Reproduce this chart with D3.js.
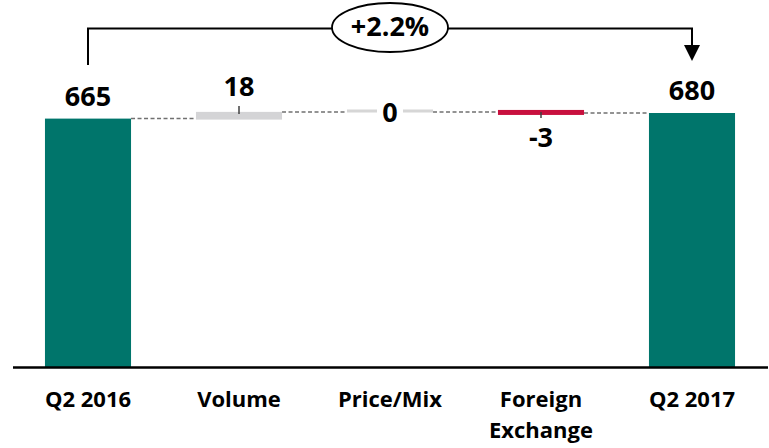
<!DOCTYPE html>
<html>
<head>
<meta charset="utf-8">
<script src="https://cdn.jsdelivr.net/npm/d3@7"></script>
<style>
  body { margin: 0; background: #fff; }
  svg { display: block; font-family: "Open Sans", Lato, sans-serif; }
</style>
</head>
<body>
<div id="chartContainer"></div>
<script>
// Chart data
const categories = ["Q2 2016", "Volume", "Price/Mix", "Foreign Exchange", "Q2 2017"];
const values = [665, 18, 0, -3, 680];
const kinds = ["total", "delta", "delta", "delta", "total"];
const changeLabel = "+2.2%";

function createChart() {
    const width = 769;
    const height = 448;
    const baseY = 367;

    const teal = "#00756b";
    const red = "#c8103e";
    const grayUp = "#d4d4d6";
    const grayZero = "#d6d6d6";

    // build waterfall steps
    let running = 0;
    const steps = categories.map((c, i) => {
        let start, end;
        if (kinds[i] === "total") { start = 0; end = values[i]; running = values[i]; }
        else { start = running; end = running + values[i]; running = end; }
        return { cat: c, value: values[i], kind: kinds[i], start, end };
    });

    const x = d3.scaleBand()
        .domain(categories)
        .range([12.5, 767.5])
        .paddingInner(0.43)
        .paddingOuter(0.215);

    const y = d3.scaleLinear()
        .domain([0, 680])
        .range([baseY, 113]);

    const svg = d3.create("svg")
        .attr("viewBox", [0, 0, width, height])
        .attr("width", width)
        .attr("height", height);

    // dashed connectors
    const links = steps.slice(0, -1).map((d, i) => ({ from: d, to: steps[i + 1], level: d.end }));
    svg.append("g")
        .selectAll("line")
        .data(links)
        .join("line")
        .attr("x1", d => x(d.from.cat) + x.bandwidth())
        .attr("x2", d => x(d.to.cat))
        .attr("y1", d => y(d.level))
        .attr("y2", d => y(d.level))
        .attr("stroke", "#707070")
        .attr("stroke-width", 1.5)
        .attr("stroke-dasharray", "4,2.5");

    // bars
    const minH = 5;
    const barY = d => {
        const top = y(Math.max(d.start, d.end)), bot = y(Math.min(d.start, d.end));
        if (d.kind === "delta" && d.value !== 0 && bot - top < minH) {
            const mid = (top + bot) / 2;
            return [mid - minH / 2, minH];
        }
        return [top, bot - top];
    };

    svg.append("g")
        .selectAll("rect")
        .data(steps.filter(d => !(d.kind === "delta" && d.value === 0)))
        .join("rect")
        .attr("x", d => x(d.cat))
        .attr("width", x.bandwidth())
        .attr("y", d => d.kind === "total" ? y(d.end) : barY(d)[0])
        .attr("height", d => d.kind === "total" ? y(0) - y(d.end) : barY(d)[1] + (d.value > 0 ? 1 : 0))
        .attr("fill", d => d.kind === "total" ? teal : (d.value > 0 ? grayUp : red));

    // zero change drawn as a thin line
    const zeros = steps.filter(d => d.kind === "delta" && d.value === 0);
    svg.append("g")
        .selectAll("line")
        .data(zeros)
        .join("line")
        .attr("x1", d => x(d.cat))
        .attr("x2", d => x(d.cat) + x.bandwidth())
        .attr("y1", d => y(d.end) - 1)
        .attr("y2", d => y(d.end) - 1)
        .attr("stroke", grayZero)
        .attr("stroke-width", 3);

    // small tick marks on delta bars
    const deltas = steps.filter(d => d.kind === "delta" && d.value !== 0);
    svg.append("g")
        .selectAll("line")
        .data(deltas)
        .join("line")
        .attr("x1", d => x(d.cat) + x.bandwidth() / 2)
        .attr("x2", d => x(d.cat) + x.bandwidth() / 2)
        .attr("y1", d => d.value > 0 ? barY(d)[0] - 6 : barY(d)[0] + barY(d)[1] - 3)
        .attr("y2", d => d.value > 0 ? barY(d)[0] + 2 : barY(d)[0] + barY(d)[1] + 3)
        .attr("stroke", "#404040")
        .attr("stroke-width", 1.5);

    // value labels
    const labelY = d => {
        if (d.kind === "total") return y(d.end) - 13;
        if (d.value > 0) return barY(d)[0] - 16;
        if (d.value < 0) return barY(d)[0] + barY(d)[1] + 32;
        return y(d.end) + 10;
    };

    svg.append("g")
        .selectAll("rect")
        .data(zeros)
        .join("rect")
        .attr("x", d => x(d.cat) + x.bandwidth() / 2 - 13)
        .attr("width", 26)
        .attr("y", d => y(d.end) - 12)
        .attr("height", 24)
        .attr("fill", "#fff");

    svg.append("g")
        .selectAll("text")
        .data(steps)
        .join("text")
        .attr("x", d => x(d.cat) + x.bandwidth() / 2)
        .attr("y", labelY)
        .attr("text-anchor", "middle")
        .attr("font-size", 27)
        .attr("font-weight", "bold")
        .attr("fill", "#000")
        .text(d => d.value);

    // x axis
    const xAxis = g => g
        .attr("transform", `translate(0,${baseY})`)
        .call(d3.axisBottom(x).tickSize(0).tickSizeOuter(0).tickPadding(0))
        .call(g => g.select(".domain").attr("stroke", "#000").attr("stroke-width", 2.5))
        .call(g => g.selectAll(".tick text").remove());

    const ax = svg.append("g").call(xAxis);
    ax.selectAll(".tick").each(function (c) {
        const t = d3.select(this).append("text")
            .attr("text-anchor", "middle")
            .attr("font-size", 22)
            .attr("font-weight", "bold")
            .attr("font-family", "'Open Sans', sans-serif")
            .attr("fill", "#000");
        const words = c === "Foreign Exchange" ? ["Foreign", "Exchange"] : [c];
        words.forEach((w, i) => {
            t.append("tspan").attr("x", 0).attr("y", 40 + i * 31).text(w);
        });
    });

    // growth bracket
    const x0 = x(categories[0]) + x.bandwidth() / 2;
    const x1 = x(categories[categories.length - 1]) + x.bandwidth() / 2;
    const by = 28.5;
    const cx = (x0 + x1) / 2;
    svg.append("path")
        .attr("d", `M${x0},65V${by}H${x1}V46`)
        .attr("fill", "none")
        .attr("stroke", "#000")
        .attr("stroke-width", 2);
    svg.append("path")
        .attr("d", `M${x1 - 8},45L${x1 + 8},45L${x1},61Z`)
        .attr("fill", "#000");
    svg.append("ellipse")
        .attr("cx", cx)
        .attr("cy", 27.5)
        .attr("rx", 58)
        .attr("ry", 24.5)
        .attr("fill", "#fff")
        .attr("stroke", "#000")
        .attr("stroke-width", 1.8);
    svg.append("text")
        .attr("x", cx)
        .attr("y", 36)
        .attr("text-anchor", "middle")
        .attr("font-size", 27)
        .attr("font-weight", "bold")
        .text(changeLabel);

    return svg.node();
}

document.getElementById("chartContainer").appendChild(createChart());
</script>
</body>
</html>
